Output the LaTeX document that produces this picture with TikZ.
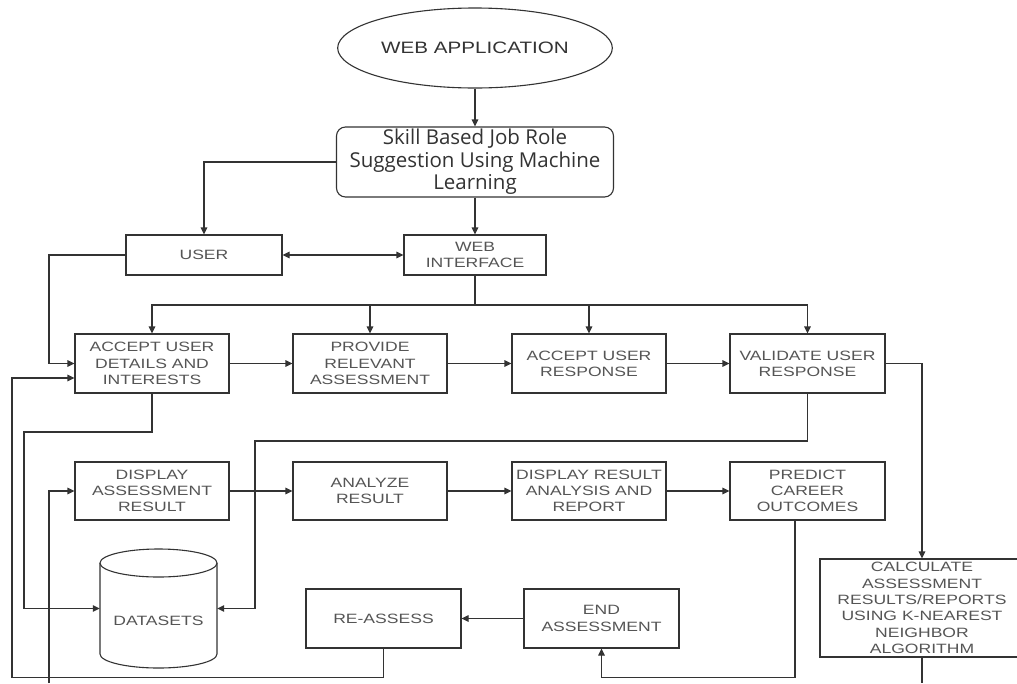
\documentclass[tikz,border=0pt]{standalone}
\usepackage{fontspec}
\usetikzlibrary{arrows.meta,shapes.geometric}
\newfontfamily\boxfont[FakeStretch=1.3]{Liberation Sans}
\newfontfamily\ellfont[FakeStretch=1.25]{Liberation Sans}
\newfontfamily\titlefont{Open Sans}
\definecolor{linec}{HTML}{333333}
\definecolor{textc}{HTML}{555555}
\begin{document}
\begin{tikzpicture}[x=1pt,y=-1pt,
  box/.style={draw=linec,line width=1.1pt,fill=white,align=center,inner sep=1pt,
    font=\boxfont\fontsize{13.5}{16.3}\selectfont,text=textc},
  arr/.style={draw=linec,line width=1.1pt,-{Triangle[length=7pt,width=6.5pt]}},
  darr/.style={draw=linec,line width=1.1pt,{Triangle[length=7pt,width=6.5pt]}-{Triangle[length=7pt,width=6.5pt]}},
  ln/.style={draw=linec,line width=1.1pt}]
\useasboundingbox[fill=white] (0,0) rectangle (1017,683);

% nodes
\node[ellipse,draw=linec,line width=1.1pt,minimum width=246pt,minimum height=80pt,
  font=\ellfont\fontsize{16.5}{18}\selectfont,text=linec] (app) at (475,48) {WEB APPLICATION};
\node[box,rounded corners=9pt,minimum width=277pt,minimum height=70pt,
  font=\titlefont\fontsize{20.5}{22.5}\selectfont,text=linec] (skill) at (475,162)
  {Skill Based Job Role\\Suggestion Using Machine\\Learning};
\node[box,minimum width=156pt,minimum height=40pt] (user) at (204,255) {USER};
\node[box,minimum width=142pt,minimum height=40pt] (web) at (475,255) {WEB\\INTERFACE};

\node[box,minimum width=154pt,minimum height=59pt] (a1) at (152,363.5) {ACCEPT USER\\DETAILS AND\\INTERESTS};
\node[box,minimum width=154pt,minimum height=59pt] (a2) at (370,363.5) {PROVIDE\\RELEVANT\\ASSESSMENT};
\node[box,minimum width=154pt,minimum height=59pt] (a3) at (589,363.5) {ACCEPT USER\\RESPONSE};
\node[box,minimum width=155pt,minimum height=59pt] (a4) at (807.5,363.5) {VALIDATE USER\\RESPONSE};

\node[box,minimum width=154pt,minimum height=58pt] (b1) at (152,491) {DISPLAY\\ASSESSMENT\\RESULT};
\node[box,minimum width=154pt,minimum height=58pt] (b2) at (370,491) {ANALYZE\\RESULT};
\node[box,minimum width=154pt,minimum height=58pt] (b3) at (589,491) {DISPLAY RESULT\\ANALYSIS AND\\REPORT};
\node[box,minimum width=155pt,minimum height=58pt] (b4) at (807.5,491) {PREDICT\\CAREER\\OUTCOMES};

\node[box,minimum width=204pt,minimum height=98pt] (calc) at (922,608)
  {CALCULATE\\ASSESSMENT\\RESULTS/REPORTS\\USING K-NEAREST\\NEIGHBOR\\ALGORITHM};

% datasets cylinder
\node[minimum width=117pt,minimum height=119pt,inner sep=0pt] (data) at (158.5,608.5) {};
\draw[ln,fill=white] (100,563) -- (100,654) arc[start angle=180,end angle=360,x radius=58.5pt,y radius=14pt]
  -- (217,563);
\draw[ln,fill=white] (158.5,563) ellipse[x radius=58.5pt,y radius=14pt];
\node[font=\boxfont\fontsize{13.5}{16.3}\selectfont,text=textc] (datalbl) at (158.5,621) {DATASETS};

\node[box,minimum width=155pt,minimum height=59pt] (re) at (383.5,618.5) {RE-ASSESS};
\node[box,minimum width=155pt,minimum height=59pt] (endb) at (601.5,618.5) {END\\ASSESSMENT};

% coordinates
\coordinate (bus) at (475,305);
\coordinate (uL) at (49,255);
\coordinate (c1) at (24,432);
\coordinate (c2) at (255,441);
\coordinate (c4) at (12,378);
\coordinate (e1) at (49,683);
\coordinate (e2) at (922,683);

% connectors
\draw[arr] (app) -- (skill);
\draw[arr] (skill.west) -| (user.north);
\draw[arr] (skill.south) -- (web.north);
\draw[darr] (user.east) -- (web.west);
\draw[arr] (user.west) -- (uL) |- (a1.west);

\draw[ln] (web.south) -- (bus);
\draw[arr] (bus) -| (a1.north);
\draw[arr] (bus) -| (a4.north);
\draw[arr] (a2.north |- bus) -- (a2.north);
\draw[arr] (a3.north |- bus) -- (a3.north);

\draw[arr] (a1) -- (a2);
\draw[arr] (a2) -- (a3);
\draw[arr] (a3) -- (a4);
\draw[arr] (a4.east) -| (calc.north);

\draw[arr] (a1.south) |- (c1) |- (data.west);
\draw[arr] (a4.south) |- (c2) |- (data.east);

\draw[arr] (b1) -- (b2);
\draw[arr] (b2) -- (b3);
\draw[arr] (b3) -- (b4);
\draw[arr] (e1) |- (b1.west);

\draw[arr] ([xshift=-12.5pt]b4.south) -- ++(0,157) -| (endb.south);
\draw[arr] (endb.west) -- (re.east);
\draw[arr] (re.south) -- ++(0,29) -| (c4) -- ([yshift=-14.5pt]a1.west);
\draw[ln] (calc.south) -- (e2);
\end{tikzpicture}
\end{document}
